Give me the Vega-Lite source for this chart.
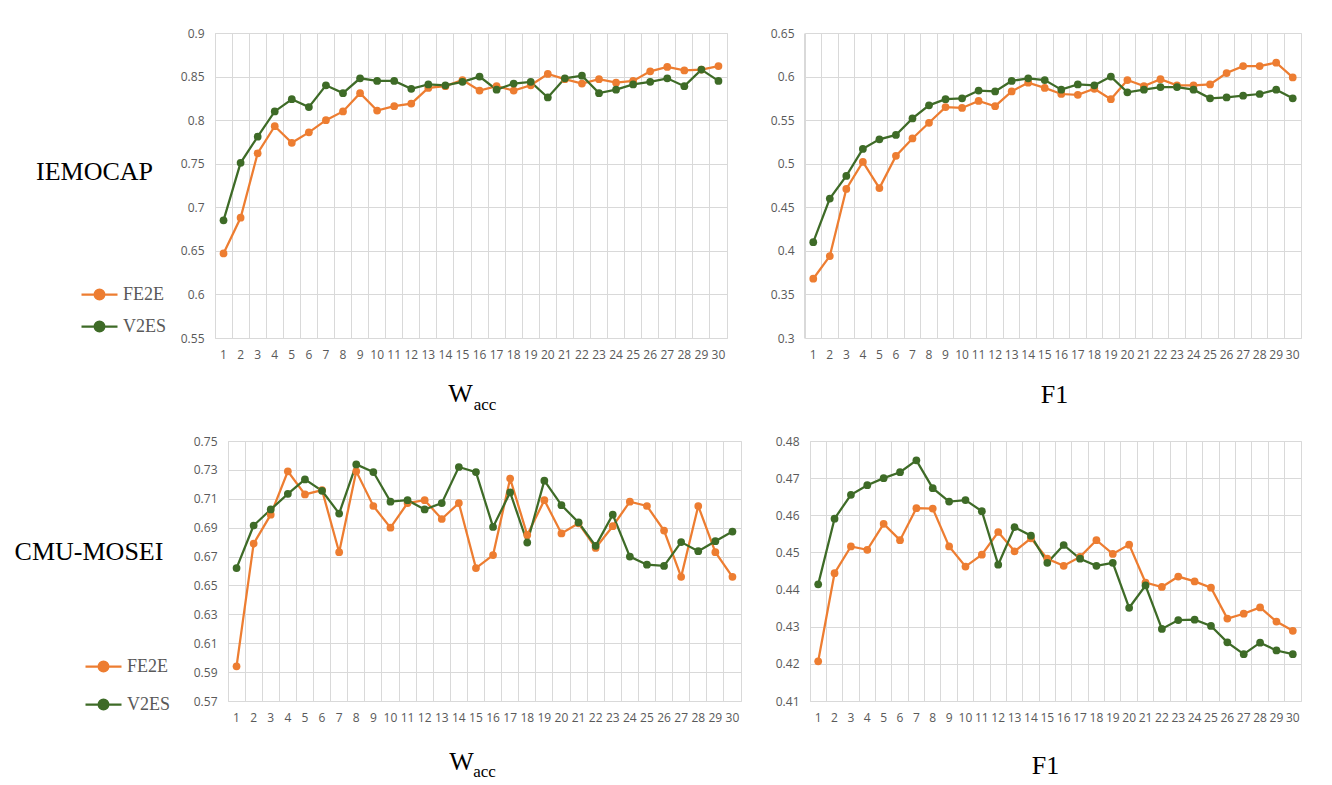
{
  "$schema": "https://vega.github.io/schema/vega-lite/v6.json",
  "background": "white",
  "padding": {"left": 13, "top": 26, "right": 5, "bottom": 5},
  "bounds": "full",
  "spacing": 20,
  "datasets": {
    "iem_w": [
      {"epoch": 1, "FE2E": 0.647, "V2ES": 0.685}, {"epoch": 2, "FE2E": 0.688, "V2ES": 0.751}, {"epoch": 3, "FE2E": 0.762, "V2ES": 0.781},
      {"epoch": 4, "FE2E": 0.793, "V2ES": 0.81}, {"epoch": 5, "FE2E": 0.774, "V2ES": 0.824}, {"epoch": 6, "FE2E": 0.786, "V2ES": 0.815},
      {"epoch": 7, "FE2E": 0.8, "V2ES": 0.84}, {"epoch": 8, "FE2E": 0.81, "V2ES": 0.831}, {"epoch": 9, "FE2E": 0.831, "V2ES": 0.848},
      {"epoch": 10, "FE2E": 0.811, "V2ES": 0.845}, {"epoch": 11, "FE2E": 0.816, "V2ES": 0.845}, {"epoch": 12, "FE2E": 0.819, "V2ES": 0.836},
      {"epoch": 13, "FE2E": 0.837, "V2ES": 0.841}, {"epoch": 14, "FE2E": 0.839, "V2ES": 0.84}, {"epoch": 15, "FE2E": 0.846, "V2ES": 0.844},
      {"epoch": 16, "FE2E": 0.834, "V2ES": 0.85}, {"epoch": 17, "FE2E": 0.839, "V2ES": 0.835}, {"epoch": 18, "FE2E": 0.834, "V2ES": 0.842},
      {"epoch": 19, "FE2E": 0.84, "V2ES": 0.844}, {"epoch": 20, "FE2E": 0.853, "V2ES": 0.826}, {"epoch": 21, "FE2E": 0.847, "V2ES": 0.848},
      {"epoch": 22, "FE2E": 0.842, "V2ES": 0.851}, {"epoch": 23, "FE2E": 0.847, "V2ES": 0.831}, {"epoch": 24, "FE2E": 0.843, "V2ES": 0.835},
      {"epoch": 25, "FE2E": 0.845, "V2ES": 0.841}, {"epoch": 26, "FE2E": 0.856, "V2ES": 0.844}, {"epoch": 27, "FE2E": 0.861, "V2ES": 0.848},
      {"epoch": 28, "FE2E": 0.857, "V2ES": 0.839}, {"epoch": 29, "FE2E": 0.858, "V2ES": 0.858}, {"epoch": 30, "FE2E": 0.862, "V2ES": 0.845}
    ],
    "iem_f": [
      {"epoch": 1, "FE2E": 0.368, "V2ES": 0.41}, {"epoch": 2, "FE2E": 0.394, "V2ES": 0.46}, {"epoch": 3, "FE2E": 0.471, "V2ES": 0.486},
      {"epoch": 4, "FE2E": 0.502, "V2ES": 0.517}, {"epoch": 5, "FE2E": 0.472, "V2ES": 0.528}, {"epoch": 6, "FE2E": 0.509, "V2ES": 0.533},
      {"epoch": 7, "FE2E": 0.529, "V2ES": 0.552}, {"epoch": 8, "FE2E": 0.547, "V2ES": 0.567}, {"epoch": 9, "FE2E": 0.565, "V2ES": 0.574},
      {"epoch": 10, "FE2E": 0.564, "V2ES": 0.575}, {"epoch": 11, "FE2E": 0.572, "V2ES": 0.584}, {"epoch": 12, "FE2E": 0.566, "V2ES": 0.583},
      {"epoch": 13, "FE2E": 0.583, "V2ES": 0.595}, {"epoch": 14, "FE2E": 0.593, "V2ES": 0.598}, {"epoch": 15, "FE2E": 0.587, "V2ES": 0.596},
      {"epoch": 16, "FE2E": 0.58, "V2ES": 0.585}, {"epoch": 17, "FE2E": 0.579, "V2ES": 0.591}, {"epoch": 18, "FE2E": 0.586, "V2ES": 0.59},
      {"epoch": 19, "FE2E": 0.574, "V2ES": 0.6}, {"epoch": 20, "FE2E": 0.596, "V2ES": 0.582}, {"epoch": 21, "FE2E": 0.589, "V2ES": 0.585},
      {"epoch": 22, "FE2E": 0.597, "V2ES": 0.588}, {"epoch": 23, "FE2E": 0.59, "V2ES": 0.588}, {"epoch": 24, "FE2E": 0.59, "V2ES": 0.585},
      {"epoch": 25, "FE2E": 0.591, "V2ES": 0.575}, {"epoch": 26, "FE2E": 0.604, "V2ES": 0.576}, {"epoch": 27, "FE2E": 0.612, "V2ES": 0.578},
      {"epoch": 28, "FE2E": 0.612, "V2ES": 0.58}, {"epoch": 29, "FE2E": 0.616, "V2ES": 0.585}, {"epoch": 30, "FE2E": 0.599, "V2ES": 0.575}
    ],
    "mos_w": [
      {"epoch": 1, "FE2E": 0.594, "V2ES": 0.662}, {"epoch": 2, "FE2E": 0.679, "V2ES": 0.6915}, {"epoch": 3, "FE2E": 0.699, "V2ES": 0.7026},
      {"epoch": 4, "FE2E": 0.729, "V2ES": 0.7134}, {"epoch": 5, "FE2E": 0.713, "V2ES": 0.7234}, {"epoch": 6, "FE2E": 0.716, "V2ES": 0.7155},
      {"epoch": 7, "FE2E": 0.673, "V2ES": 0.6998}, {"epoch": 8, "FE2E": 0.729, "V2ES": 0.7338}, {"epoch": 9, "FE2E": 0.705, "V2ES": 0.7285},
      {"epoch": 10, "FE2E": 0.69, "V2ES": 0.708}, {"epoch": 11, "FE2E": 0.707, "V2ES": 0.709}, {"epoch": 12, "FE2E": 0.709, "V2ES": 0.7026},
      {"epoch": 13, "FE2E": 0.696, "V2ES": 0.707}, {"epoch": 14, "FE2E": 0.707, "V2ES": 0.732}, {"epoch": 15, "FE2E": 0.662, "V2ES": 0.7285},
      {"epoch": 16, "FE2E": 0.671, "V2ES": 0.6905}, {"epoch": 17, "FE2E": 0.724, "V2ES": 0.7144}, {"epoch": 18, "FE2E": 0.685, "V2ES": 0.6797},
      {"epoch": 19, "FE2E": 0.709, "V2ES": 0.7225}, {"epoch": 20, "FE2E": 0.686, "V2ES": 0.7056}, {"epoch": 21, "FE2E": 0.693, "V2ES": 0.6936},
      {"epoch": 22, "FE2E": 0.676, "V2ES": 0.6774}, {"epoch": 23, "FE2E": 0.691, "V2ES": 0.699}, {"epoch": 24, "FE2E": 0.708, "V2ES": 0.67},
      {"epoch": 25, "FE2E": 0.705, "V2ES": 0.6644}, {"epoch": 26, "FE2E": 0.688, "V2ES": 0.6635}, {"epoch": 27, "FE2E": 0.656, "V2ES": 0.68},
      {"epoch": 28, "FE2E": 0.705, "V2ES": 0.6737}, {"epoch": 29, "FE2E": 0.673, "V2ES": 0.6806}, {"epoch": 30, "FE2E": 0.656, "V2ES": 0.6873}
    ],
    "mos_f": [
      {"epoch": 1, "FE2E": 0.4207, "V2ES": 0.4414}, {"epoch": 2, "FE2E": 0.4444, "V2ES": 0.4591}, {"epoch": 3, "FE2E": 0.4516, "V2ES": 0.4655},
      {"epoch": 4, "FE2E": 0.4507, "V2ES": 0.4681}, {"epoch": 5, "FE2E": 0.4577, "V2ES": 0.47}, {"epoch": 6, "FE2E": 0.4533, "V2ES": 0.4716},
      {"epoch": 7, "FE2E": 0.4619, "V2ES": 0.4748}, {"epoch": 8, "FE2E": 0.4618, "V2ES": 0.4673}, {"epoch": 9, "FE2E": 0.4516, "V2ES": 0.4637},
      {"epoch": 10, "FE2E": 0.4462, "V2ES": 0.4641}, {"epoch": 11, "FE2E": 0.4494, "V2ES": 0.4611}, {"epoch": 12, "FE2E": 0.4555, "V2ES": 0.4467},
      {"epoch": 13, "FE2E": 0.4503, "V2ES": 0.4568}, {"epoch": 14, "FE2E": 0.4538, "V2ES": 0.4545}, {"epoch": 15, "FE2E": 0.4483, "V2ES": 0.4472},
      {"epoch": 16, "FE2E": 0.4464, "V2ES": 0.452}, {"epoch": 17, "FE2E": 0.4488, "V2ES": 0.4483}, {"epoch": 18, "FE2E": 0.4533, "V2ES": 0.4464},
      {"epoch": 19, "FE2E": 0.4496, "V2ES": 0.4472}, {"epoch": 20, "FE2E": 0.4521, "V2ES": 0.4351}, {"epoch": 21, "FE2E": 0.4419, "V2ES": 0.4411},
      {"epoch": 22, "FE2E": 0.4407, "V2ES": 0.4294}, {"epoch": 23, "FE2E": 0.4435, "V2ES": 0.4318}, {"epoch": 24, "FE2E": 0.4422, "V2ES": 0.4319},
      {"epoch": 25, "FE2E": 0.4405, "V2ES": 0.4302}, {"epoch": 26, "FE2E": 0.4322, "V2ES": 0.4258}, {"epoch": 27, "FE2E": 0.4335, "V2ES": 0.4226},
      {"epoch": 28, "FE2E": 0.4352, "V2ES": 0.4257}, {"epoch": 29, "FE2E": 0.4314, "V2ES": 0.4236}, {"epoch": 30, "FE2E": 0.4289, "V2ES": 0.4226}
    ],
    "empty": []
  },
  "resolve": {"scale": {"color": "independent"}, "legend": {"color": "independent"}},
  "vconcat": [
    {
      "hconcat": [
        {"width": 122, "height": 305, "data": {"name": "empty"}, "mark": "point", "view": {"stroke": null}},
        {
          "width": 512, "height": 305,
          "data": {"name": "iem_w"},
          "transform": [{"fold": ["FE2E", "V2ES"], "as": ["model", "value"]}],
          "title": {"text": "acc", "orient": "bottom", "anchor": "middle", "baseline": "alphabetic", "offset": 4, "dx": 14, "font": "Liberation Serif", "fontSize": 17, "fontWeight": "normal", "color": "#000000"},
          "encoding": {
            "x": {"field": "epoch", "type": "ordinal", "scale": {"type": "band", "paddingInner": 0, "paddingOuter": 0},
                  "axis": {"title": "W", "titleX": 245, "titleY": 63, "titleAlign": "center", "titleBaseline": "alphabetic"}},
            "y": {"field": "value", "type": "quantitative", "scale": {"domain": [0.55, 0.9], "nice": false, "zero": false},
                  "axis": {"values": [0.55, 0.6, 0.65, 0.7, 0.75, 0.8, 0.85, 0.9], "title": "IEMOCAP", "titleAngle": 0, "titleX": -121, "titleY": 146, "titleAlign": "center", "titleBaseline": "alphabetic"}},
            "color": {"field": "model", "type": "nominal", "scale": {"domain": ["FE2E", "V2ES"], "range": ["#ED7D31", "#3E6B27"]},
                      "legend": {"legendX": -135, "legendY": 242, "rowPadding": 3}}
          },
          "layer": [
            {"mark": {"type": "line", "strokeWidth": 2.25}},
            {"mark": {"type": "point", "filled": true, "size": 60, "opacity": 1}}
          ]
        },
        {
          "width": 496, "height": 305,
          "data": {"name": "iem_f"},
          "transform": [{"fold": ["FE2E", "V2ES"], "as": ["model", "value"]}],
          "encoding": {
            "x": {"field": "epoch", "type": "ordinal", "scale": {"type": "band", "paddingInner": 0, "paddingOuter": 0},
                  "axis": {"title": "F1", "titleX": 249, "titleY": 64, "titleAlign": "center", "titleBaseline": "alphabetic"}},
            "y": {"field": "value", "type": "quantitative", "scale": {"domain": [0.3, 0.65], "nice": false, "zero": false},
                  "axis": {"values": [0.3, 0.35, 0.4, 0.45, 0.5, 0.55, 0.6, 0.65], "title": null}},
            "color": {"field": "model", "type": "nominal", "scale": {"domain": ["FE2E", "V2ES"], "range": ["#ED7D31", "#3E6B27"]}, "legend": null}
          },
          "layer": [
            {"mark": {"type": "line", "strokeWidth": 2.25}},
            {"mark": {"type": "point", "filled": true, "size": 60, "opacity": 1}}
          ]
        }
      ],
      "spacing": 78,
      "bounds": "flush",
      "resolve": {"scale": {"color": "independent"}, "legend": {"color": "independent"}}
    },
    {
      "hconcat": [
        {"width": 144, "height": 260, "data": {"name": "empty"}, "mark": "point", "view": {"stroke": null}},
        {
          "width": 513, "height": 260,
          "data": {"name": "mos_w"},
          "transform": [{"fold": ["FE2E", "V2ES"], "as": ["model", "value"]}],
          "title": {"text": "acc", "orient": "bottom", "anchor": "middle", "baseline": "alphabetic", "offset": 3, "dx": 0, "font": "Liberation Serif", "fontSize": 17, "fontWeight": "normal", "color": "#000000"},
          "encoding": {
            "x": {"field": "epoch", "type": "ordinal", "scale": {"type": "band", "paddingInner": 0, "paddingOuter": 0},
                  "axis": {"title": "W", "titleX": 233, "titleY": 68, "titleAlign": "center", "titleBaseline": "alphabetic"}},
            "y": {"field": "value", "type": "quantitative", "scale": {"domain": [0.57, 0.75], "nice": false, "zero": false},
                  "axis": {"values": [0.57, 0.59, 0.61, 0.63, 0.65, 0.67, 0.69, 0.71, 0.73, 0.75], "title": "CMU-MOSEI", "titleAngle": 0, "titleX": -139.5, "titleY": 118, "titleAlign": "center", "titleBaseline": "alphabetic"}},
            "color": {"field": "model", "type": "nominal", "scale": {"domain": ["FE2E", "V2ES"], "range": ["#ED7D31", "#3E6B27"]},
                      "legend": {"legendX": -144, "legendY": 206, "rowPadding": 9}}
          },
          "layer": [
            {"mark": {"type": "line", "strokeWidth": 2.25}},
            {"mark": {"type": "point", "filled": true, "size": 60, "opacity": 1}}
          ]
        },
        {
          "width": 491, "height": 260,
          "data": {"name": "mos_f"},
          "transform": [{"fold": ["FE2E", "V2ES"], "as": ["model", "value"]}],
          "encoding": {
            "x": {"field": "epoch", "type": "ordinal", "scale": {"type": "band", "paddingInner": 0, "paddingOuter": 0},
                  "axis": {"title": "F1", "titleX": 235, "titleY": 72, "titleAlign": "center", "titleBaseline": "alphabetic"}},
            "y": {"field": "value", "type": "quantitative", "scale": {"domain": [0.41, 0.48], "nice": false, "zero": false},
                  "axis": {"values": [0.41, 0.42, 0.43, 0.44, 0.45, 0.46, 0.47, 0.48], "title": null}},
            "color": {"field": "model", "type": "nominal", "scale": {"domain": ["FE2E", "V2ES"], "range": ["#ED7D31", "#3E6B27"]}, "legend": null}
          },
          "layer": [
            {"mark": {"type": "line", "strokeWidth": 2.25}},
            {"mark": {"type": "point", "filled": true, "size": 60, "opacity": 1}}
          ]
        }
      ],
      "spacing": 69,
      "bounds": "flush",
      "resolve": {"scale": {"color": "independent"}, "legend": {"color": "independent"}}
    }
  ],
  "config": {
    "view": {"stroke": "#d9d9d9", "strokeWidth": 1},
    "axis": {
      "domain": false, "ticks": false, "tickSize": 0,
      "gridColor": "#d9d9d9", "gridWidth": 1,
      "labelFont": "Open Sans", "labelFontSize": 12, "labelColor": "#595959",
      "titleFont": "Liberation Serif", "titleFontSize": 26, "titleFontWeight": "normal", "titleColor": "#000000"
    },
    "axisX": {"labelAngle": 0, "grid": true, "bandPosition": 0, "labelPadding": 11, "labelOverlap": false},
    "axisY": {"labelPadding": 11, "format": "~g", "labelFlush": false, "grid": true},
    "legend": {
      "orient": "none", "title": null, "direction": "vertical", "padding": 0,
      "symbolType": "M-1,0H1M-0.27,0A0.27,0.27,0,1,1,0.27,0A0.27,0.27,0,1,1,-0.27,0Z",
      "symbolSize": 1296, "symbolStrokeWidth": 2.25,
      "labelFont": "Liberation Serif", "labelFontSize": 18, "labelColor": "#595959", "labelOffset": 4
    }
  }
}
